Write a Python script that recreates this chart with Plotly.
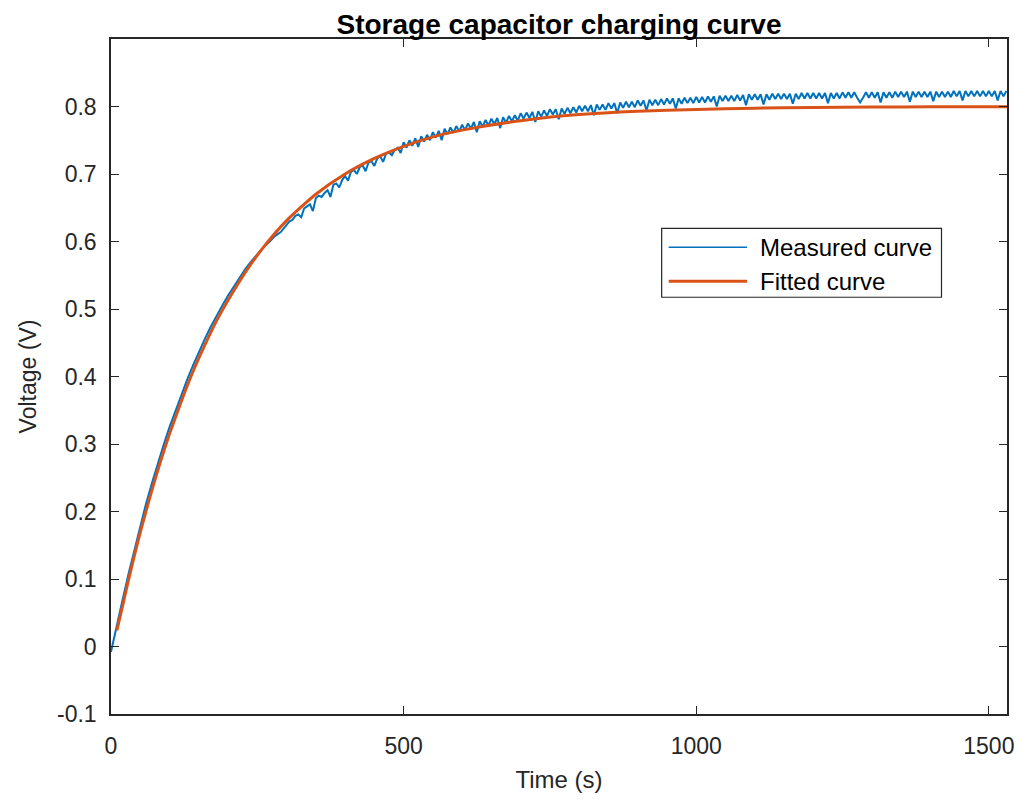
import plotly.graph_objects as go

# ---------------- data ----------------
# Measured curve: every 10 s from 0 to 290 s, then every 5 s from 300 to 1530 s (values in mV)
meas_time = list(range(0, 300, 10)) + list(range(300, 1531, 5))
meas_mv = [
    # 0 - 290 s (10 s step)
    -8, 29, 70, 108, 144, 179, 212, 242, 271, 299,
    325, 349, 373, 395, 416, 436, 455, 473, 490, 505,
    520, 534, 547, 560, 571, 581, 591, 599, 608, 614,
    # 300 - 395 s (5 s step)
    625, 630, 632, 638, 640, 636, 649, 652, 655, 645, 664, 668, 666, 672, 676, 666, 684, 686, 680, 691,
    # 400 - 495
    697, 690, 703, 706, 700, 710, 713, 704, 717, 719, 712, 723, 726, 718, 730, 732, 728, 736, 739, 731,
    # 500 - 595
    747, 739, 750, 742, 753, 740, 756, 748, 758, 750, 762, 754, 764, 750, 767, 759, 769, 761, 771, 763,
    # 600 - 695
    773, 765, 775, 767, 777, 762, 778, 770, 780, 772, 782, 774, 783, 768, 784, 776, 786, 778, 787, 779,
    # 700 - 795
    790, 782, 791, 783, 792, 777, 793, 785, 794, 786, 796, 788, 796, 781, 797, 789, 798, 790, 799, 791,
    # 800 - 895
    801, 793, 801, 793, 802, 787, 803, 795, 803, 795, 805, 797, 805, 790, 806, 798, 807, 799, 807, 799,
    # 900 - 995
    809, 801, 809, 794, 810, 802, 810, 802, 811, 803, 812, 804, 812, 797, 812, 804, 813, 805, 813, 805,
    # 1000 - 1095
    814, 806, 814, 806, 815, 807, 815, 800, 816, 808, 816, 808, 816, 808, 817, 809, 817, 802, 818, 810,
    # 1100 - 1195
    818, 810, 818, 803, 818, 810, 819, 811, 819, 811, 819, 811, 819, 804, 819, 811, 820, 812, 820, 812,
    # 1200 - 1295
    820, 812, 820, 812, 820, 805, 820, 812, 820, 812, 821, 813, 821, 813, 821, 813, 806, 813, 821, 813,
    # 1300 - 1395
    821, 813, 821, 806, 821, 813, 821, 813, 822, 814, 822, 814, 822, 807, 822, 814, 822, 814, 822, 814,
    # 1400 - 1495
    822, 808, 822, 814, 822, 814, 822, 814, 823, 815, 823, 809, 823, 815, 823, 815, 823, 815, 823, 815,
    # 1500 - 1530
    823, 815, 823, 809, 823, 815, 823,
]
assert len(meas_time) == len(meas_mv), (len(meas_time), len(meas_mv))
meas_volt = [v / 1000 for v in meas_mv]

# Fitted curve (time in s, voltage in V)
fit_time = [10, 20, 30, 40, 50, 60, 70, 80, 90, 100, 120, 140, 160, 180, 200,
            230, 260, 300, 350, 400, 450, 500, 550, 600, 700, 800, 900, 1000,
            1100, 1200, 1300, 1400, 1531]
fit_volt = [0.024, 0.061, 0.099, 0.135, 0.169, 0.201, 0.232, 0.261, 0.289, 0.315,
            0.363, 0.407, 0.446, 0.482, 0.513, 0.555, 0.591, 0.631, 0.670, 0.700,
            0.723, 0.741, 0.755, 0.765, 0.779, 0.788, 0.793, 0.7957,
            0.7975, 0.7985, 0.7991, 0.7995, 0.7997]

x_ticks = [0, 500, 1000, 1500]
y_ticks = [-0.1, 0, 0.1, 0.2, 0.3, 0.4, 0.5, 0.6, 0.7, 0.8]
y_tick_text = ["-0.1", "0", "0.1", "0.2", "0.3", "0.4", "0.5", "0.6", "0.7", "0.8"]

series_names = ["Measured curve", "Fitted curve"]

# ---------------- styling ----------------
BLUE = "#0072BD"
ORANGE = "#D95319"
AX = "#262626"
FONT = "Liberation Sans, Arial, Helvetica, sans-serif"

fig = go.Figure()
fig.add_trace(go.Scatter(x=meas_time, y=meas_volt, mode="lines", name=series_names[0],
                         line=dict(color=BLUE, width=2.0), showlegend=False))
fig.add_trace(go.Scatter(x=fit_time, y=fit_volt, mode="lines", name=series_names[1],
                         line=dict(color=ORANGE, width=3, shape="spline", smoothing=0.6),
                         showlegend=False))

axis_common = dict(
    showline=True, linecolor=AX, linewidth=1.5, mirror="ticks",
    ticks="inside", ticklen=8, tickwidth=1.2, tickcolor=AX,
    showgrid=False, zeroline=False,
    tickfont=dict(family=FONT, size=23, color=AX),
)

fig.update_xaxes(range=[0, 1531], tickvals=x_ticks, ticklabelstandoff=11,
                 title=dict(text="Time (s)", font=dict(family=FONT, size=24, color=AX), standoff=13),
                 **axis_common)
fig.update_yaxes(range=[-0.1, 0.9], tickvals=y_ticks, ticktext=y_tick_text, ticklabelstandoff=8,
                 title=dict(text="Voltage (V)", font=dict(family=FONT, size=23, color=AX), standoff=14),
                 **axis_common)

# Legend drawn as a MATLAB-style box
lx0, lx1, ly0, ly1 = 0.6146, 0.9269, 0.6174, 0.7194
shapes = [dict(type="rect", xref="paper", yref="paper", x0=lx0, x1=lx1, y0=ly0, y1=ly1,
               line=dict(color=AX, width=1.2), fillcolor="white", layer="above")]
rows = [(0.6913, BLUE, 1.5), (0.6411, ORANGE, 3)]
annotations = []
for (ry, col, w), name in zip(rows, series_names):
    shapes.append(dict(type="line", xref="paper", yref="paper", x0=0.6224, x1=0.7099,
                       y0=ry, y1=ry, line=dict(color=col, width=w), layer="above"))
    annotations.append(dict(xref="paper", yref="paper", x=0.7225, y=ry, text=name,
                            showarrow=False, xanchor="left", yanchor="middle",
                            font=dict(family=FONT, size=24, color="#000000")))

# The page body adds an 8 px offset; the figure is sized so that it fills the window exactly.
fig.update_layout(
    width=1018, height=793,
    margin=dict(l=103, r=12, t=31, b=85),
    paper_bgcolor="white", plot_bgcolor="white",
    title=dict(text="<b>Storage capacitor charging curve</b>", xref="paper", x=0.5, xanchor="center",
               y=0.979, yanchor="middle", font=dict(family=FONT, size=28, color="#000000")),
    shapes=shapes, annotations=annotations,
)

fig.write_html("out.html")
